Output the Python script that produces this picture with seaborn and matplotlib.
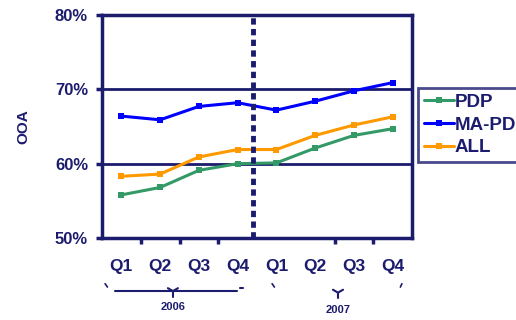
import pandas as pd
import matplotlib
matplotlib.use("Agg")
import matplotlib.pyplot as plt
import matplotlib.transforms as mtransforms
import seaborn as sns

# values
quarters = ["Q1", "Q2", "Q3", "Q4", "Q1", "Q2", "Q3", "Q4"]
years = ["2006", "2007"]
pdp = [55.8, 56.8, 59.1, 60.0, 60.1, 62.1, 63.8, 64.7]
mapd = [66.4, 65.9, 67.7, 68.2, 67.2, 68.4, 69.8, 70.9]
all_plans = [58.3, 58.6, 60.9, 61.9, 61.9, 63.8, 65.2, 66.3]
series_names = ["PDP", "MA-PD", "ALL"]
yticks = [50, 60, 70, 80]

navy = "#1c1c6e"
colors = ["#339966", "#0000ff", "#ff9900"]

rows = []
for name, vals in zip(series_names, [pdp, mapd, all_plans]):
    for i, v in enumerate(vals):
        rows.append({"idx": i, "value": v, "series": name})
df = pd.DataFrame(rows)

sns.set_style("white")
plt.rcParams["font.family"] = ["Liberation Sans", "DejaVu Sans"]
plt.rcParams["font.weight"] = "bold"

fig = plt.figure(figsize=(5.16, 3.2), dpi=100)
ax = fig.add_axes([102 / 516, 1 - 238 / 320, 310 / 516, 223 / 320])

sns.lineplot(data=df, x="idx", y="value", hue="series", palette=colors,
             marker="s", markersize=4, markeredgewidth=0, linewidth=2.2,
             ax=ax, legend=True)

ax.set_xlim(-0.5, 7.5)
ax.set_ylim(50, 80)

# horizontal grid lines
for y in yticks[1:-1]:
    ax.axhline(y, color=navy, lw=2, zorder=1)

# dashed separator between years
ax.axvline(3.4, color=navy, lw=3.5, ls=(0, (1.3, 0.9)), zorder=3, clip_on=False)

for s in ax.spines.values():
    s.set_color(navy)
    s.set_linewidth(2.5)

ax.set_yticks(yticks)
ax.set_yticklabels([f"{v}%" for v in yticks])
ax.set_xticks(range(len(quarters)))
ax.set_xticklabels(quarters)
ax.set_xticks([0.5, 1.5, 2.5, 5.5, 6.5], minor=True)
ax.tick_params(axis="x", which="major", length=0, pad=15, labelsize=12.5, labelcolor=navy)
ax.tick_params(axis="x", which="minor", length=4, width=2.5, color=navy, direction="out", bottom=True)
ax.tick_params(axis="y", length=4, width=2.5, color=navy, labelsize=12, labelcolor=navy, left=True, pad=6)
for lab in ax.get_xticklabels() + ax.get_yticklabels():
    lab.set_fontweight("bold")

ax.set_xlabel("")
ax.set_ylabel("OOA", color=navy, fontsize=11, fontweight="bold", labelpad=18)

# year braces under the quarter labels
trans = mtransforms.blended_transform_factory(ax.transData, ax.transAxes)
ax.plot([-0.16, 2.98], [-0.238, -0.238], color=navy, lw=1.5, transform=trans, clip_on=False)
ax.plot([1.33, 1.33], [-0.238, -0.265], color=navy, lw=1.5, transform=trans, clip_on=False)
ax.plot([1.2, 1.33, 1.46], [-0.225, -0.238, -0.225], color=navy, lw=1.5, transform=trans, clip_on=False)
ax.plot([-0.42, -0.36], [-0.205, -0.22], color=navy, lw=1.2, transform=trans, clip_on=False)
ax.plot([3.05, 3.14], [-0.226, -0.226], color=navy, lw=1.5, transform=trans, clip_on=False)
ax.plot([5.59, 5.59], [-0.245, -0.27], color=navy, lw=1.5, transform=trans, clip_on=False)
ax.plot([5.46, 5.59, 5.72], [-0.232, -0.245, -0.232], color=navy, lw=1.5, transform=trans, clip_on=False)
ax.plot([3.89, 3.95], [-0.205, -0.22], color=navy, lw=1.2, transform=trans, clip_on=False)
ax.plot([7.24, 7.2], [-0.205, -0.22], color=navy, lw=1.2, transform=trans, clip_on=False)
ax.text(1.33, -0.31, years[0], transform=trans, ha="center", va="center",
        fontsize=8, fontweight="bold", color=navy)
ax.text(5.59, -0.325, years[1], transform=trans, ha="center", va="center",
        fontsize=8, fontweight="bold", color=navy)

leg = ax.legend(loc="upper left", bbox_to_anchor=(418 / 516, 1 - 88 / 320),
                bbox_transform=fig.transFigure, frameon=True, fancybox=False,
                fontsize=13.5, handlelength=1.6, handletextpad=0.05,
                borderpad=0.3, labelspacing=0.3, borderaxespad=0)
leg.get_frame().set_edgecolor(navy)
leg.get_frame().set_linewidth(2)
for t in leg.get_texts():
    t.set_color(navy)
    t.set_fontweight("bold")

plt.savefig("out.png", dpi=100)
